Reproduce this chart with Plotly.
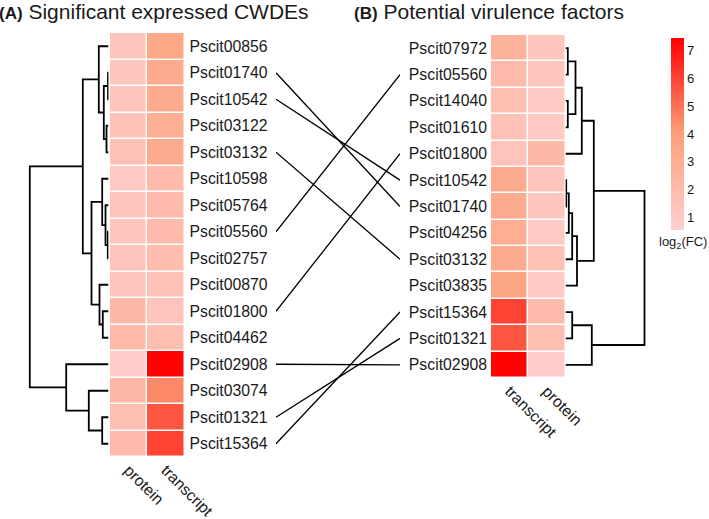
import plotly.graph_objects as go

W, H = 709, 519

# ---------------- data ----------------
left_genes = ["Pscit00856", "Pscit01740", "Pscit10542", "Pscit03122", "Pscit03132",
              "Pscit10598", "Pscit05764", "Pscit05560", "Pscit02757", "Pscit00870",
              "Pscit01800", "Pscit04462", "Pscit02908", "Pscit03074", "Pscit01321",
              "Pscit15364"]
left_cols = ["protein", "transcript"]
left_protein = [1.3, 1.2, 1.3, 1.5, 1.6, 1.0, 1.4, 1.3, 1.4, 1.4, 2.2, 2.1, 0.8, 2.3, 1.7, 2.0]
left_transcript = [3.5, 3.2, 3.2, 3.0, 3.2, 2.0, 2.0, 2.0, 1.9, 1.6, 1.4, 1.8, 7.4, 4.5, 5.6, 6.0]

right_genes = ["Pscit07972", "Pscit05560", "Pscit14040", "Pscit01610", "Pscit01800",
               "Pscit10542", "Pscit01740", "Pscit04256", "Pscit03132", "Pscit03835",
               "Pscit15364", "Pscit01321", "Pscit02908"]
right_cols = ["transcript", "protein"]
right_transcript = [2.6, 2.0, 1.7, 1.6, 1.4, 3.2, 3.2, 3.0, 3.2, 3.6, 6.0, 5.6, 7.4]
right_protein = [1.2, 1.3, 1.0, 1.0, 2.2, 1.3, 1.2, 1.0, 1.6, 0.9, 2.0, 1.7, 0.8]

# hclust-style merges (negative = leaf, 1-based; positive = earlier merge)
left_merge_a = [-2, -8, -4, -7, 1, -11, -6, -15, -10, -1, 7, -14, 10, -13, 13]
left_merge_b = [-3, -9, -5, 2, 3, -12, 4, -16, 6, 5, 9, 8, 11, 12, 14]
left_merge_h = [0.5, 0.7, 2.0, 3.0, 4.7, 5.7, 6.3, 6.3, 9.0, 9.7, 17.0, 19.7, 25.7, 42.3, 78.7]

right_merge_a = [-6, -1, -3, 1, 4, -11, 2, 5, 7, 6, 9, 11]
right_merge_b = [-7, -2, -4, -8, -9, -12, 3, -10, -5, -13, 8, 10]
right_merge_h = [0.7, 2.3, 2.3, 3.3, 6.7, 6.7, 10.0, 11.5, 16.3, 26.3, 28.3, 79.0]

colorbar_ticks = [1, 2, 3, 4, 5, 6, 7]
z_min, z_max = 0.55, 7.45

# ---------------- layout geometry (pixels) ----------------
L_HM_X0, L_HM_X1, L_HM_Y0, L_HM_Y1 = 110, 184.5, 33, 457
R_HM_X0, R_HM_X1, R_HM_Y0, R_HM_Y1 = 491, 565.5, 35, 378
DEN_W = 82
LINK_X0, LINK_X1 = 276, 400
FONT = "Liberation Sans, Arial, sans-serif"
TXT = "#1a1a1a"


def fx(p):
    return p / W


def fy(p):
    return 1 - p / H


def dendro_lines(ma, mb, mh):
    pos, hts = {}, {}
    xs, ys = [], []

    def get(k):
        if k < 0:
            return -k - 1, 0.0
        return pos[k], hts[k]

    for i, (a, b, h) in enumerate(zip(ma, mb, mh), start=1):
        pa, ha = get(a)
        pb, hb = get(b)
        xs += [ha, h, h, hb, None]
        ys += [pa, pa, pb, pb, None]
        pos[i] = (pa + pb) / 2
        hts[i] = h
    return xs, ys


nL, nR = len(left_genes), len(right_genes)
fig = go.Figure()

# heatmaps
fig.add_trace(go.Heatmap(
    z=[[p, t] for p, t in zip(left_protein, left_transcript)],
    x=[0, 1], y=list(range(nL)), coloraxis="coloraxis",
    xgap=1.5, ygap=1.5, hoverinfo="skip", xaxis="x", yaxis="y"))
fig.add_trace(go.Heatmap(
    z=[[t, p] for t, p in zip(right_transcript, right_protein)],
    x=[0, 1], y=list(range(nR)), coloraxis="coloraxis",
    xgap=1.5, ygap=1.5, hoverinfo="skip", xaxis="x2", yaxis="y2"))

# dendrograms
lx, ly = dendro_lines(left_merge_a, left_merge_b, left_merge_h)
fig.add_trace(go.Scatter(x=lx, y=ly, mode="lines", line=dict(color="black", width=1.8),
                         hoverinfo="skip", showlegend=False, xaxis="x3", yaxis="y3"))
rx, ry = dendro_lines(right_merge_a, right_merge_b, right_merge_h)
fig.add_trace(go.Scatter(x=rx, y=ry, mode="lines", line=dict(color="black", width=1.8),
                         hoverinfo="skip", showlegend=False, xaxis="x4", yaxis="y4"))

# links between shared genes (in left-row units)
l_row_h = (L_HM_Y1 - L_HM_Y0) / nL
r_row_h = (R_HM_Y1 - R_HM_Y0) / nR
kx, ky = [], []
for i, g in enumerate(left_genes):
    if g in right_genes:
        j = right_genes.index(g)
        rpix = R_HM_Y0 + (j + 0.5) * r_row_h
        kx += [0, 1, None]
        ky += [i, (rpix - L_HM_Y0) / l_row_h - 0.5, None]
fig.add_trace(go.Scatter(x=kx, y=ky, mode="lines", line=dict(color="black", width=1.3),
                         hoverinfo="skip", showlegend=False, xaxis="x5", yaxis="y5"))

hide = dict(visible=False, showgrid=False, zeroline=False, fixedrange=True, automargin=False)
tickfont = dict(family=FONT, size=15.8, color=TXT)
common = dict(showgrid=False, zeroline=False, ticks="", showline=False,
              tickfont=tickfont, automargin=False, fixedrange=True)

fig.update_layout(
    template="none",
    width=W, height=H, margin=dict(l=0, r=0, t=0, b=0, pad=0, autoexpand=False),
    paper_bgcolor="white", plot_bgcolor="white", showlegend=False,
    xaxis=dict(domain=[fx(L_HM_X0), fx(L_HM_X1)], range=[-0.5, 1.5], tickvals=[0, 1],
               ticktext=left_cols, tickangle=45, anchor="y", **common),
    yaxis=dict(domain=[fy(L_HM_Y1), fy(L_HM_Y0)], range=[nL - 0.5, -0.5],
               tickvals=list(range(nL)), ticktext=left_genes, side="right",
               ticklabelstandoff=4, anchor="x", **common),
    xaxis2=dict(domain=[fx(R_HM_X0), fx(R_HM_X1)], range=[-0.5, 1.5], tickvals=[0, 1],
                ticktext=right_cols, tickangle=45, anchor="y2", **common),
    yaxis2=dict(domain=[fy(R_HM_Y1), fy(R_HM_Y0)], range=[nR - 0.5, -0.5],
                tickvals=list(range(nR)), ticktext=right_genes, side="left",
                ticklabelstandoff=3, anchor="x2", **common),
    xaxis3=dict(domain=[fx(L_HM_X0 - 1.5 - DEN_W), fx(L_HM_X0 - 1.5)], range=[DEN_W, 0],
                anchor="y3", **hide),
    yaxis3=dict(domain=[fy(L_HM_Y1), fy(L_HM_Y0)], range=[nL - 0.5, -0.5], anchor="x3", **hide),
    xaxis4=dict(domain=[fx(R_HM_X1), fx(R_HM_X1 + DEN_W)], range=[0, DEN_W],
                anchor="y4", **hide),
    yaxis4=dict(domain=[fy(R_HM_Y1), fy(R_HM_Y0)], range=[nR - 0.5, -0.5], anchor="x4", **hide),
    xaxis5=dict(domain=[fx(LINK_X0), fx(LINK_X1)], range=[0, 1], anchor="y5", **hide),
    yaxis5=dict(domain=[fy(L_HM_Y1), fy(L_HM_Y0)], range=[nL - 0.5, -0.5], anchor="x5", **hide),
    coloraxis=dict(
        cmin=z_min, cmax=z_max,
        colorscale=[[0, "#FFCFCF"], [0.5, "#FCA07A"], [1, "#FF0000"]],
        colorbar=dict(x=fx(671), xanchor="left", xpad=0, ypad=0,
                      y=fy(38), yanchor="top", len=192, lenmode="pixels",
                      thickness=13, thicknessmode="pixels", outlinewidth=0,
                      tickvals=colorbar_ticks, ticks="",
                      tickfont=dict(family=FONT, size=13, color=TXT)),
    ),
)

fig.add_annotation(x=fx(-3), y=fy(12), xref="paper", yref="paper", xanchor="left",
                   yanchor="middle", showarrow=False,
                   text="<b><span style='font-size:17px'>(A)</span></b> Significant expressed CWDEs",
                   font=dict(family=FONT, size=21, color=TXT))
fig.add_annotation(x=fx(352), y=fy(12), xref="paper", yref="paper", xanchor="left",
                   yanchor="middle", showarrow=False,
                   text="<b><span style='font-size:17px'>(B)</span></b> Potential virulence factors",
                   font=dict(family=FONT, size=21, color=TXT))
fig.add_annotation(x=fx(683), y=fy(242), xref="paper", yref="paper", xanchor="center",
                   yanchor="middle", showarrow=False, text="log<sub>2</sub>(FC)",
                   font=dict(family=FONT, size=13, color=TXT))

fig.write_html("out.html", config={"displayModeBar": False, "staticPlot": True},
               post_script="document.body.style.margin='0';document.body.style.overflow='hidden';")
